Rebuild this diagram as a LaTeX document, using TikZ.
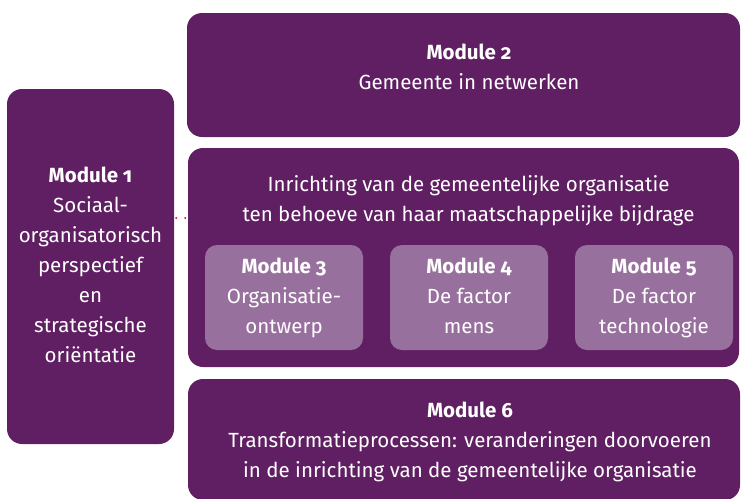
\documentclass[tikz,border=0pt]{standalone}
\usepackage{fontspec}
\setmainfont{Fira Sans}[Numbers=OldStyle]
\usetikzlibrary{positioning}
\definecolor{plum}{RGB}{96,31,98}
\definecolor{lilac}{RGB}{152,112,158}
\definecolor{dotred}{RGB}{200,40,40}

\begin{document}
\begin{tikzpicture}[x=1pt, y=-1pt, on grid, node distance=185pt,
    module/.style={fill=plum, rounded corners=15pt, text=white, align=center,
        inner sep=0pt, font=\fontsize{20.5}{30}\selectfont},
    submodule/.style={fill=lilac, rounded corners=12pt, text=white, align=center,
        inner sep=0pt, minimum width=158pt, minimum height=105pt,
        font=\fontsize{20.5}{30}\selectfont},
    caption/.style={text=white, align=center, inner sep=0pt,
        font=\fontsize{20.5}{30}\selectfont},
    link/.style={dotred, line width=2.2pt, line cap=round, dash pattern=on 0pt off 9pt}]

    \clip (0,0) rectangle (743,498);

    % left column
    \node[module, minimum width=167pt, minimum height=355pt] (m1) at (90.5,266.5)
        {\strut\textbf{Module 1}\\Sociaal-\\organisatorisch\\perspectief\\en\\strategische\\oriëntatie\strut};

    % right column
    \node[module, minimum width=553pt, minimum height=124pt] (m2) at (463.5,75) {};
    \node[caption] (m2text) at (469,68) {\strut\textbf{Module 2}\\Gemeente in netwerken\strut};

    \node[module, minimum width=551pt, minimum height=219pt] (mid) at (463.5,257.5) {};
    \node[caption] (midtext) at (468.5,200)
        {\strut Inrichting van de gemeentelijke organisatie\\ten behoeve van haar maatschappelijke bijdrage\strut};

    \node[submodule] (m3) at (284,297.5) {\strut\textbf{Module 3}\\Organisatie-\\ontwerp\strut};
    \node[submodule] (m4) [right=of m3] {\strut\textbf{Module 4}\\De factor\\mens\strut};
    \node[submodule] (m5) [right=of m4] {\strut\textbf{Module 5}\\De factor\\technologie\strut};

    \node[module, minimum width=552pt, minimum height=121pt] (m6) at (464,439.5) {};
    \node[caption] (m6text) at (470,441)
        {\strut\textbf{Module 6}\\Transformatieprocessen: veranderingen doorvoeren\\in de inrichting van de gemeentelijke organisatie\strut};

    % dotted link
    \coordinate (linkrow) at (0,218);
    \draw[link, shorten <=2pt] (m1.east |- linkrow) -- (mid.west |- linkrow);

\end{tikzpicture}
\end{document}
